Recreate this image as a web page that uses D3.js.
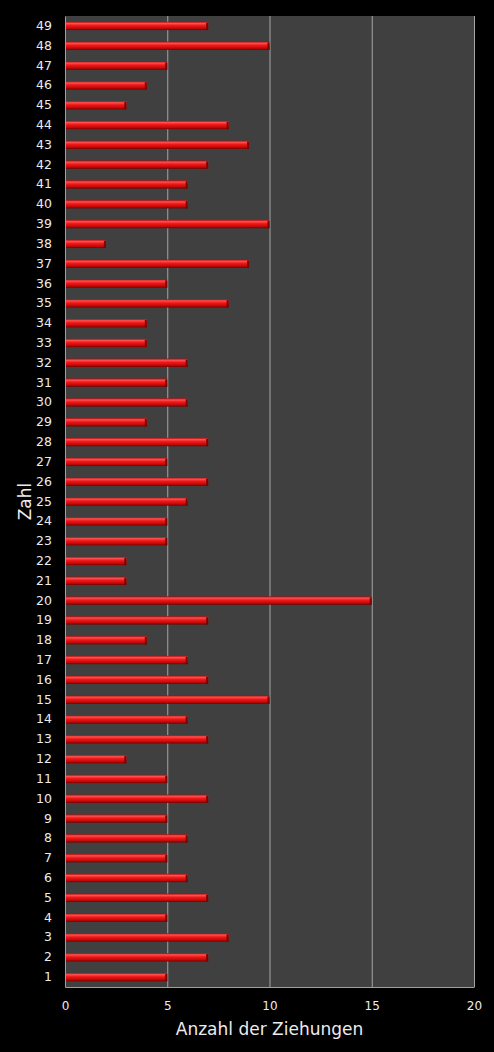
<!DOCTYPE html>
<html>
<head>
<meta charset="utf-8">
<script src="https://cdn.jsdelivr.net/npm/d3@7"></script>
<style>
  html, body { margin: 0; padding: 0; background: #000; }
  svg { display: block; }
  .tick text { font-family: "DejaVu Sans", Verdana, sans-serif; fill: #ececec; }
</style>
</head>
<body>
<div id="chart"></div>
<script>
// Zahlen 1..49 and how often each was drawn
var zahlen = d3.range(1, 50).map(String);
var ziehungen = [5, 7, 8, 5, 7, 6, 5, 6, 5, 7,
                 5, 3, 7, 6, 10, 7, 6, 4, 7, 15,
                 3, 3, 5, 5, 6, 7, 5, 7, 4, 6,
                 5, 6, 4, 4, 8, 5, 9, 2, 10, 6,
                 6, 7, 9, 8, 3, 4, 5, 10, 7];
var xTicks = [0, 5, 10, 15, 20];

var data = zahlen.map(function(z, i) { return {zahl: z, wert: ziehungen[i]}; });

var margin = {top: 16, right: 20, bottom: 65, left: 65},
    width = 494 - margin.left - margin.right,
    height = 1052 - margin.top - margin.bottom;

var svg = d3.select("#chart").append("svg")
    .attr("width", 494)
    .attr("height", 1052);

// bar gradient, light on top, dark at bottom
var defs = svg.append("defs");
var grad = defs.append("linearGradient")
    .attr("id", "barGrad")
    .attr("x1", 0).attr("y1", 0).attr("x2", 0).attr("y2", 1);
grad.append("stop").attr("offset", "0%").attr("stop-color", "#a01010");
grad.append("stop").attr("offset", "20%").attr("stop-color", "#ff5050");
grad.append("stop").attr("offset", "45%").attr("stop-color", "#f01818");
grad.append("stop").attr("offset", "80%").attr("stop-color", "#c00808");
grad.append("stop").attr("offset", "100%").attr("stop-color", "#700000");

var g = svg.append("g")
    .attr("transform", "translate(" + margin.left + "," + margin.top + ")");

var xScale = d3.scaleLinear()
    .domain([0, 20])
    .range([0, width]);

var yScale = d3.scaleBand()
    .domain(zahlen.slice().reverse()) // 49 on top
    .range([0, height])
    .paddingInner(0.58)
    .paddingOuter(0.29);

// plot background
g.append("rect")
    .attr("width", width)
    .attr("height", height)
    .attr("fill", "#404040");

// vertical gridlines
g.selectAll(".grid")
    .data(xTicks.slice(1))
    .enter().append("line")
    .attr("class", "grid")
    .attr("x1", function(d) { return xScale(d) + 0.5; })
    .attr("x2", function(d) { return xScale(d) + 0.5; })
    .attr("y1", 0)
    .attr("y2", height)
    .attr("stroke", "#a4a4a4")
    .attr("stroke-width", 1);

// bars
g.selectAll(".bar")
    .data(data)
    .enter().append("rect")
    .attr("class", "bar")
    .attr("x", 1)
    .attr("y", function(d) { return yScale(d.zahl); })
    .attr("width", function(d) { return xScale(d.wert) - 1; })
    .attr("height", yScale.bandwidth())
    .attr("fill", "url(#barGrad)");

// darker end cap
g.selectAll(".cap")
    .data(data)
    .enter().append("rect")
    .attr("class", "cap")
    .attr("x", function(d) { return xScale(d.wert) - 2; })
    .attr("y", function(d) { return yScale(d.zahl) + 1; })
    .attr("width", 2)
    .attr("height", yScale.bandwidth() - 1)
    .attr("fill", "#800000");

// axes
var xAxis = g.append("g")
    .attr("class", "x axis")
    .attr("transform", "translate(0," + height + ")")
    .call(d3.axisBottom(xScale).tickValues(xTicks).tickSize(0).tickPadding(14));
xAxis.select(".domain").attr("stroke", "#a0a0a0");
xAxis.selectAll("text").style("font-size", "12px");

var yAxis = g.append("g")
    .attr("class", "y axis")
    .call(d3.axisLeft(yScale).tickSize(0).tickPadding(13));
yAxis.select(".domain").attr("stroke", "#a0a0a0");
yAxis.selectAll("text").style("font-size", "12.5px");

// axis titles
svg.append("text")
    .attr("x", margin.left + width / 2)
    .attr("y", 1035)
    .attr("text-anchor", "middle")
    .style("font-family", "\"DejaVu Sans\", Verdana, sans-serif")
    .style("font-size", "17px")
    .attr("fill", "#ececec")
    .text("Anzahl der Ziehungen");

svg.append("text")
    .attr("transform", "translate(31," + (margin.top + height / 2) + ") rotate(-90)")
    .attr("text-anchor", "middle")
    .style("font-family", "\"DejaVu Sans\", Verdana, sans-serif")
    .style("font-size", "17px")
    .attr("fill", "#ececec")
    .text("Zahl");
</script>
</body>
</html>
